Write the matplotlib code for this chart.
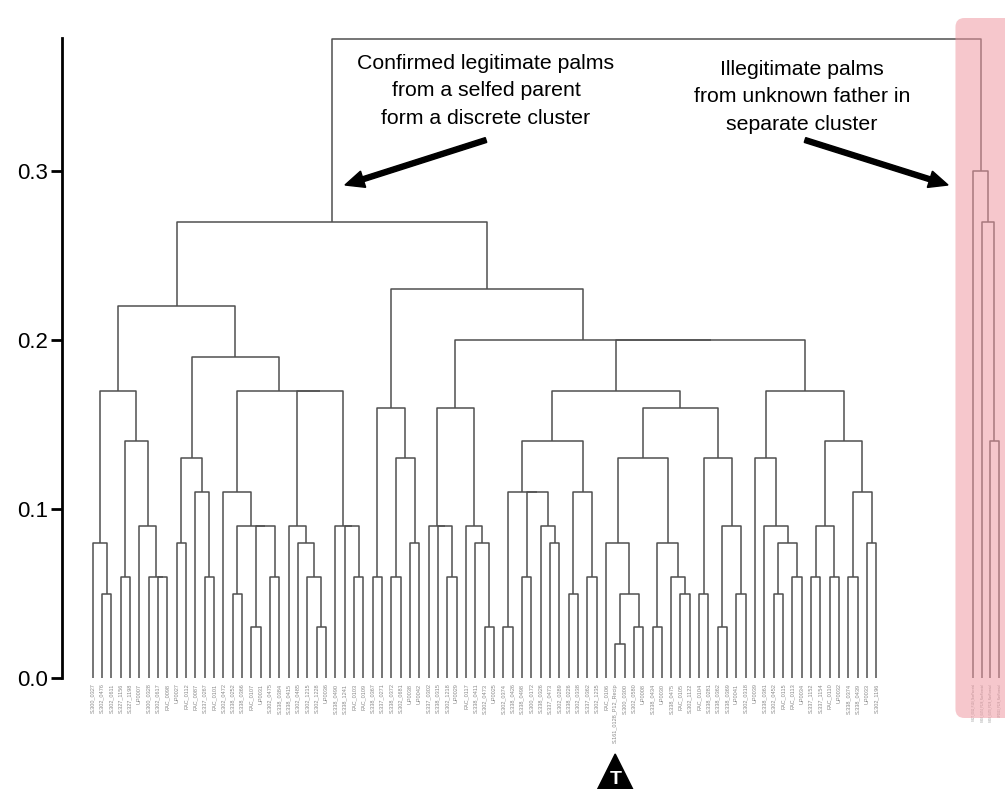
import matplotlib
matplotlib.use("Agg")
import matplotlib.pyplot as plt
from matplotlib.patches import FancyArrow, FancyBboxPatch, Polygon
from matplotlib.transforms import IdentityTransform

plt.rcParams["font.family"] = ["Liberation Sans", "DejaVu Sans"]

# ---- data -----------------------------------------------------------------
LEAF_LABELS = [
    "S.300_0327", "S.302_0476", "S.302_0611", "S.327_1156", "S.327_1198",
    "UP0007", "S.300_0328", "S.302_0617", "FAC_0098", "UP0027",
    "FAC_0112", "FAC_0087", "S.337_0267", "FAC_0101", "S.302_0472",
    "S.338_0252", "S.338_0366", "FAC_0107", "UP0031", "S.302_0475",
    "S.338_0384", "S.338_0415", "S.302_0485", "S.302_1215", "S.302_1228",
    "UP0036", "S.338_0490", "S.338_1241", "FAC_0103", "FAC_0109",
    "S.338_0367", "S.337_0271", "S.338_0372", "S.302_0681", "UP0038",
    "UP0042", "S.337_0302", "S.338_0315", "S.302_1218", "UP0029",
    "FAC_0117", "S.338_0411", "S.302_0473", "UP0025", "S.302_0374",
    "S.338_0426", "S.338_0498", "S.300_0172", "S.338_0326", "S.337_0473",
    "S.302_0289", "S.338_0226", "S.302_0338", "S.337_0362", "S.302_1235",
    "FAC_0106", "S.161_0128_P12_Recip", "S.300_0300", "S.302_0580", "UP0008",
    "S.338_0434", "UP0030", "S.338_0475", "FAC_0105", "S.302_1122",
    "FAC_0104", "S.338_0281", "S.338_0362", "S.338_0369", "UP0041",
    "S.302_0318", "UP0039", "S.338_0361", "S.302_0452", "FAC_0115",
    "FAC_0113", "UP0034", "S.337_1152", "S.337_1154", "FAC_0110",
    "UP0032", "S.338_0374", "S.338_0439", "UP0033", "S.302_1196",
]
OUTGROUP_LABELS = [
    "S.327_0011_P128_NonParental", "S.302_0474_P128_NonParental",
    "S.302_0470_P128_NonParental", "UP0053_P128_NonParental",
]
MARKED_LEAF = "S.161_0128_P12_Recip"

# tree nodes are (height, left, right); ints index into LEAF_LABELS + OUTGROUP_LABELS
left_017 = (0.17, (0.08, 0, (0.05, 1, 2)),
            (0.14, (0.06, 3, 4), (0.09, 5, (0.06, 6, (0.06, 7, 8)))))
left_a = (0.11, 14, (0.09, (0.05, 15, 16), (0.09, (0.03, 17, 18), (0.06, 19, 20))))
left_b = (0.09, 21, (0.08, 22, (0.06, 23, (0.03, 24, 25))))
left_c = (0.09, 26, (0.09, 27, (0.06, 28, 29)))
left_019 = (0.19, (0.13, (0.08, 9, 10), (0.11, 11, (0.06, 12, 13))),
            (0.17, left_a, (0.17, left_b, left_c)))
left_022 = (0.22, left_017, left_019)

right_d = (0.16, (0.06, 30, 31), (0.13, (0.06, 32, 33), (0.08, 34, 35)))
right_f = (0.16, (0.09, 36, (0.09, 37, (0.06, 38, 39))),
           (0.09, 40, (0.08, 41, (0.03, 42, 43))))
right_gl = (0.14, (0.11, (0.03, 44, 45), (0.11, (0.06, 46, 47), (0.09, 48, (0.08, 49, 50)))),
            (0.11, (0.05, 51, 52), (0.06, 53, 54)))
right_gr = (0.16, (0.13, (0.08, 55, (0.05, (0.02, 56, 57), (0.03, 58, 59))),
                   (0.08, (0.03, 60, 61), (0.06, 62, (0.05, 63, 64)))),
            (0.13, (0.05, 65, 66), (0.09, (0.03, 67, 68), (0.05, 69, 70))))
right_h = (0.17, (0.13, 71, (0.09, 72, (0.08, (0.05, 73, 74), (0.06, 75, 76)))),
           (0.14, (0.09, (0.06, 77, 78), (0.06, 79, 80)),
            (0.11, (0.06, 81, 82), (0.08, 83, 84))))
right_023 = (0.23, right_d, (0.20, right_f, (0.20, (0.17, right_gl, right_gr), right_h)))

main_cluster = (0.27, left_022, right_023)
outgroup = (0.30, 85, (0.27, 86, (0.14, 87, 88)))
ROOT = (0.378, main_cluster, outgroup)

Y_TICKS = [0.0, 0.1, 0.2, 0.3]


def draw_tree(ax, node, xpos, **kw):
    """Draw the U links of a node and return its (x, height)."""
    if isinstance(node, int):
        return xpos[node], 0.0
    h, left, right = node
    xl, hl = draw_tree(ax, left, xpos, **kw)
    xr, hr = draw_tree(ax, right, xpos, **kw)
    ax.plot([xl, xl, xr, xr], [hl, h, h, hr], **kw)
    return (xl + xr) / 2, h


W, H = 1005, 789
fig = plt.figure(figsize=(W / 100, H / 100), dpi=100)
ax = fig.add_axes([62 / W, (H - 678) / H, (W - 62) / W, 640 / H])

n_main = len(LEAF_LABELS)
xpos = list(range(n_main)) + [94.4 + 0.9 * j for j in range(len(OUTGROUP_LABELS))]
draw_tree(ax, ROOT, xpos, color="#505050", lw=1.1, clip_on=False,
          solid_capstyle="butt")

ax.set_xlim(-3.29, 97.78)
ax.set_ylim(0, 0.3787)
for s in ["top", "right", "bottom"]:
    ax.spines[s].set_visible(False)
ax.spines["left"].set_linewidth(2)
ax.spines["left"].set_bounds(0, 0.3787)

ax.set_yticks(Y_TICKS)
ax.set_yticklabels([f"{v:.1f}" for v in Y_TICKS])
ax.tick_params(axis="y", length=8, width=2, pad=2, labelsize=16)
ax.set_xticks(xpos)
ax.set_xticklabels(LEAF_LABELS + OUTGROUP_LABELS, rotation=90, fontsize=4,
                   color="#888888")
for lab in ax.get_xticklabels()[n_main:]:
    lab.set_fontsize(1.9)
ax.tick_params(axis="x", length=0, pad=4)

# pink highlight over the outgroup
x_first = ax.transData.transform((xpos[n_main], 0))[0]
box = FancyBboxPatch((x_first - 18, H - 718), 80, 700,
                     boxstyle="round,pad=0,rounding_size=9",
                     transform=IdentityTransform(), facecolor="#ef9aa3",
                     alpha=0.55, edgecolor="none", zorder=5)
fig.add_artist(box)

# annotations
txt = dict(ha="center", va="center", fontsize=15.3, linespacing=1.55)
fig.text(486 / W, 1 - 91 / H,
         "Confirmed legitimate palms\nfrom a selfed parent\nform a discrete cluster", **txt)
fig.text(802 / W, 1 - 97 / H,
         "Illegitimate palms\nfrom unknown father in\nseparate cluster", **txt)
arrow = dict(width=5, head_width=17, head_length=19, length_includes_head=True,
             color="black", transform=IdentityTransform(), zorder=6)
fig.add_artist(FancyArrow(486, H - 140, -141, -45, **arrow))
fig.add_artist(FancyArrow(805, H - 140, 143, -45, **arrow))

# marker under the reference palm
mx = ax.transData.transform((xpos[LEAF_LABELS.index(MARKED_LEAF)], 0))[0]
fig.add_artist(Polygon([(mx, H - 754), (mx - 20, -5), (mx + 20, -5)],
                       closed=True, color="black", transform=IdentityTransform()))
fig.text(mx + 0.5, 9, "T", transform=IdentityTransform(), color="white",
         fontsize=14, fontweight="bold", ha="center", va="center")

fig.savefig("out.png", dpi=100)
